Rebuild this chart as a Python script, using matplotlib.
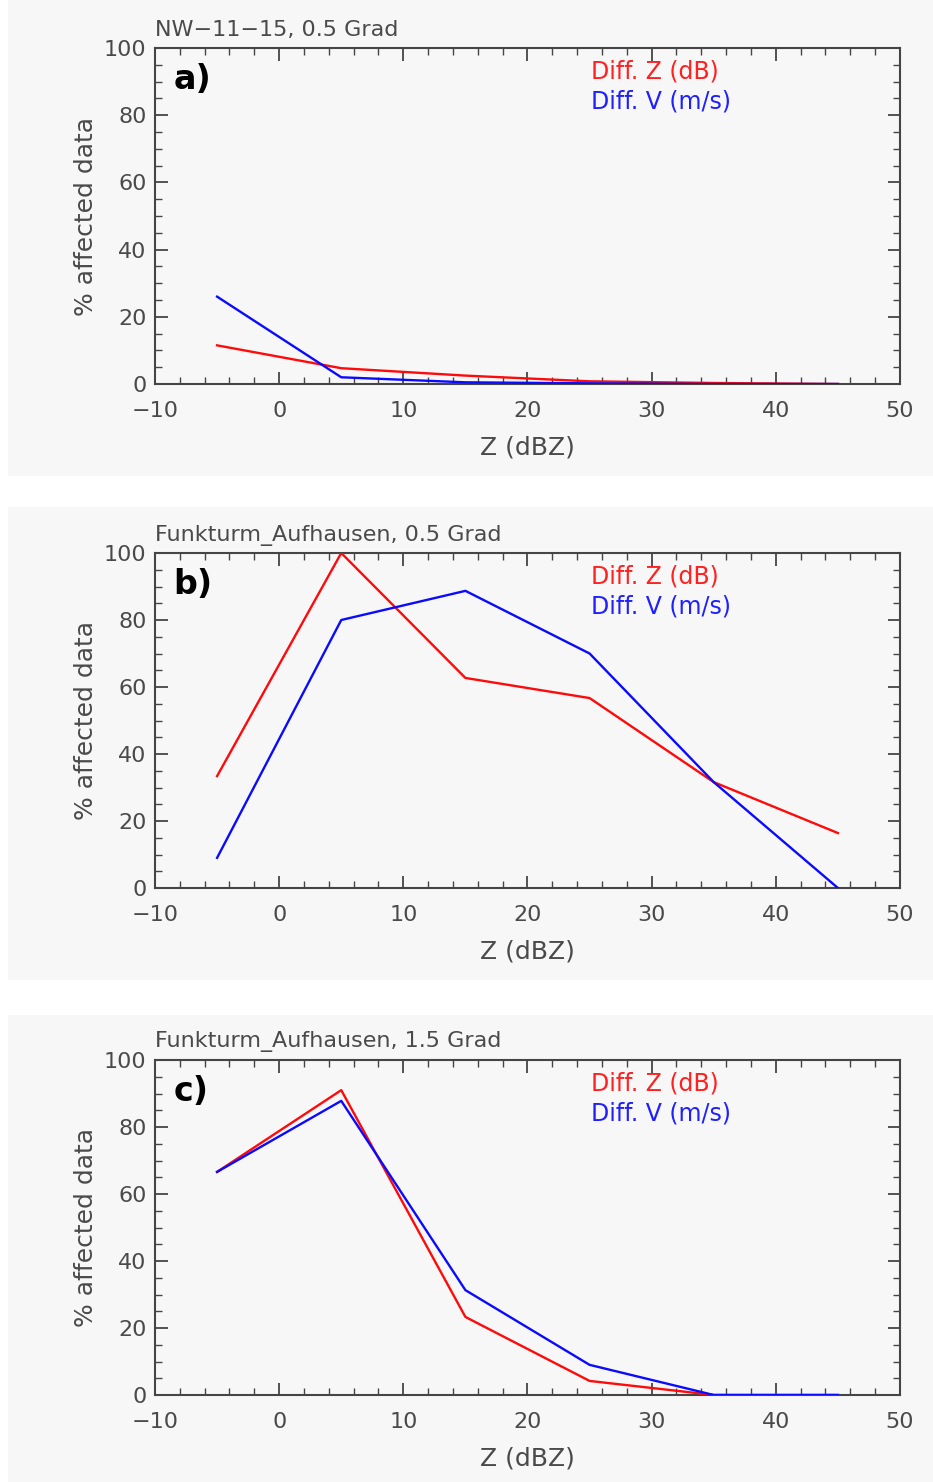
import matplotlib
matplotlib.use("Agg")
import matplotlib.pyplot as plt
from matplotlib.patches import Rectangle
from matplotlib.ticker import MultipleLocator

# ---------------------------------------------------------------------------
# Data
# ---------------------------------------------------------------------------
z_bins = [-5, 5, 15, 25, 35, 45]

titles = ["NW\u221211\u221215, 0.5 Grad",
          "Funkturm_Aufhausen, 0.5 Grad",
          "Funkturm_Aufhausen, 1.5 Grad"]
panel_tags = ["a)", "b)", "c)"]

diff_z_a = [11.5, 4.7, 2.5, 0.8, 0.3, 0.0]
diff_v_a = [26.0, 2.0, 0.5, 0.2, 0.0, 0.0]

diff_z_b = [33.4, 100.0, 62.7, 56.7, 31.6, 16.4]
diff_v_b = [9.0, 80.0, 88.7, 70.0, 31.6, 0.0]

diff_z_c = [66.6, 91.0, 23.3, 4.2, 0.0, 0.0]
diff_v_c = [66.6, 87.8, 31.3, 9.0, 0.0, 0.0]

series_z = [diff_z_a, diff_z_b, diff_z_c]
series_v = [diff_v_a, diff_v_b, diff_v_c]

# ---------------------------------------------------------------------------
W, H = 933, 1482
fig = plt.figure(figsize=(W / 100, H / 100), dpi=100)
fig.patch.set_facecolor("white")

txt_col = "#4a4a4a"
frame_col = "#454545"

# faint grey panel backgrounds (pixel rows)
bg_rows = [(0, 476), (507, 980), (1015, 1482)]
for y0, y1 in bg_rows:
    fig.patches.append(Rectangle((8 / W, 1 - y1 / H), 1 - 8 / W, (y1 - y0) / H,
                                 transform=fig.transFigure, facecolor="#f7f7f7",
                                 edgecolor="none", zorder=-10))

# axes frames in pixels: (top, bottom)
frames = [(48, 384), (553, 888), (1060, 1395)]
left, right = 155, 900

for i, (top, bottom) in enumerate(frames):
    ax = fig.add_axes([left / W, 1 - bottom / H, (right - left) / W, (bottom - top) / H])
    ax.set_facecolor("none")
    ax.set_zorder(5)

    ax.plot(z_bins, series_z[i], color="#ff0a0a", lw=1.7, zorder=3)
    ax.plot(z_bins, series_v[i], color="#0a0aff", lw=1.7, zorder=3)

    ax.set_xlim(-10, 50)
    ax.set_ylim(0, 100)
    ax.xaxis.set_major_locator(MultipleLocator(10))
    ax.xaxis.set_minor_locator(MultipleLocator(2))
    ax.yaxis.set_major_locator(MultipleLocator(20))
    ax.yaxis.set_minor_locator(MultipleLocator(5))
    ax.tick_params(which="both", direction="in", top=True, right=True,
                   color=frame_col, labelcolor=txt_col, labelsize=16)
    ax.tick_params(which="major", length=9, width=1.3)
    ax.tick_params(which="minor", length=5, width=1.0)
    ax.tick_params(axis="x", which="major", pad=12)
    ax.tick_params(axis="y", which="major", pad=6)
    ax.set_xticks([-10, 0, 10, 20, 30, 40, 50])
    ax.set_xticklabels(["\u221210", "0", "10", "20", "30", "40", "50"])
    for sp in ax.spines.values():
        sp.set_color(frame_col)
        sp.set_linewidth(1.5)

    ax.set_xlabel("Z (dBZ)", fontsize=18, color=txt_col, labelpad=11)
    ax.set_ylabel("% affected data", fontsize=18, color=txt_col, labelpad=4)
    ax.set_title(titles[i], loc="left", fontsize=16, color=txt_col, pad=9)

    ax.text(0.025, 0.955, panel_tags[i], transform=ax.transAxes, fontsize=24,
            fontweight="bold", color="black", va="top", ha="left")
    ax.text(0.585, 0.965, "Diff. Z (dB)", transform=ax.transAxes, fontsize=17,
            color="#ff2020", va="top", ha="left")
    ax.text(0.585, 0.877, "Diff. V (m/s)", transform=ax.transAxes, fontsize=17,
            color="#2020ff", va="top", ha="left")

fig.savefig("out.png", dpi=100, facecolor="white")
plt.close(fig)
